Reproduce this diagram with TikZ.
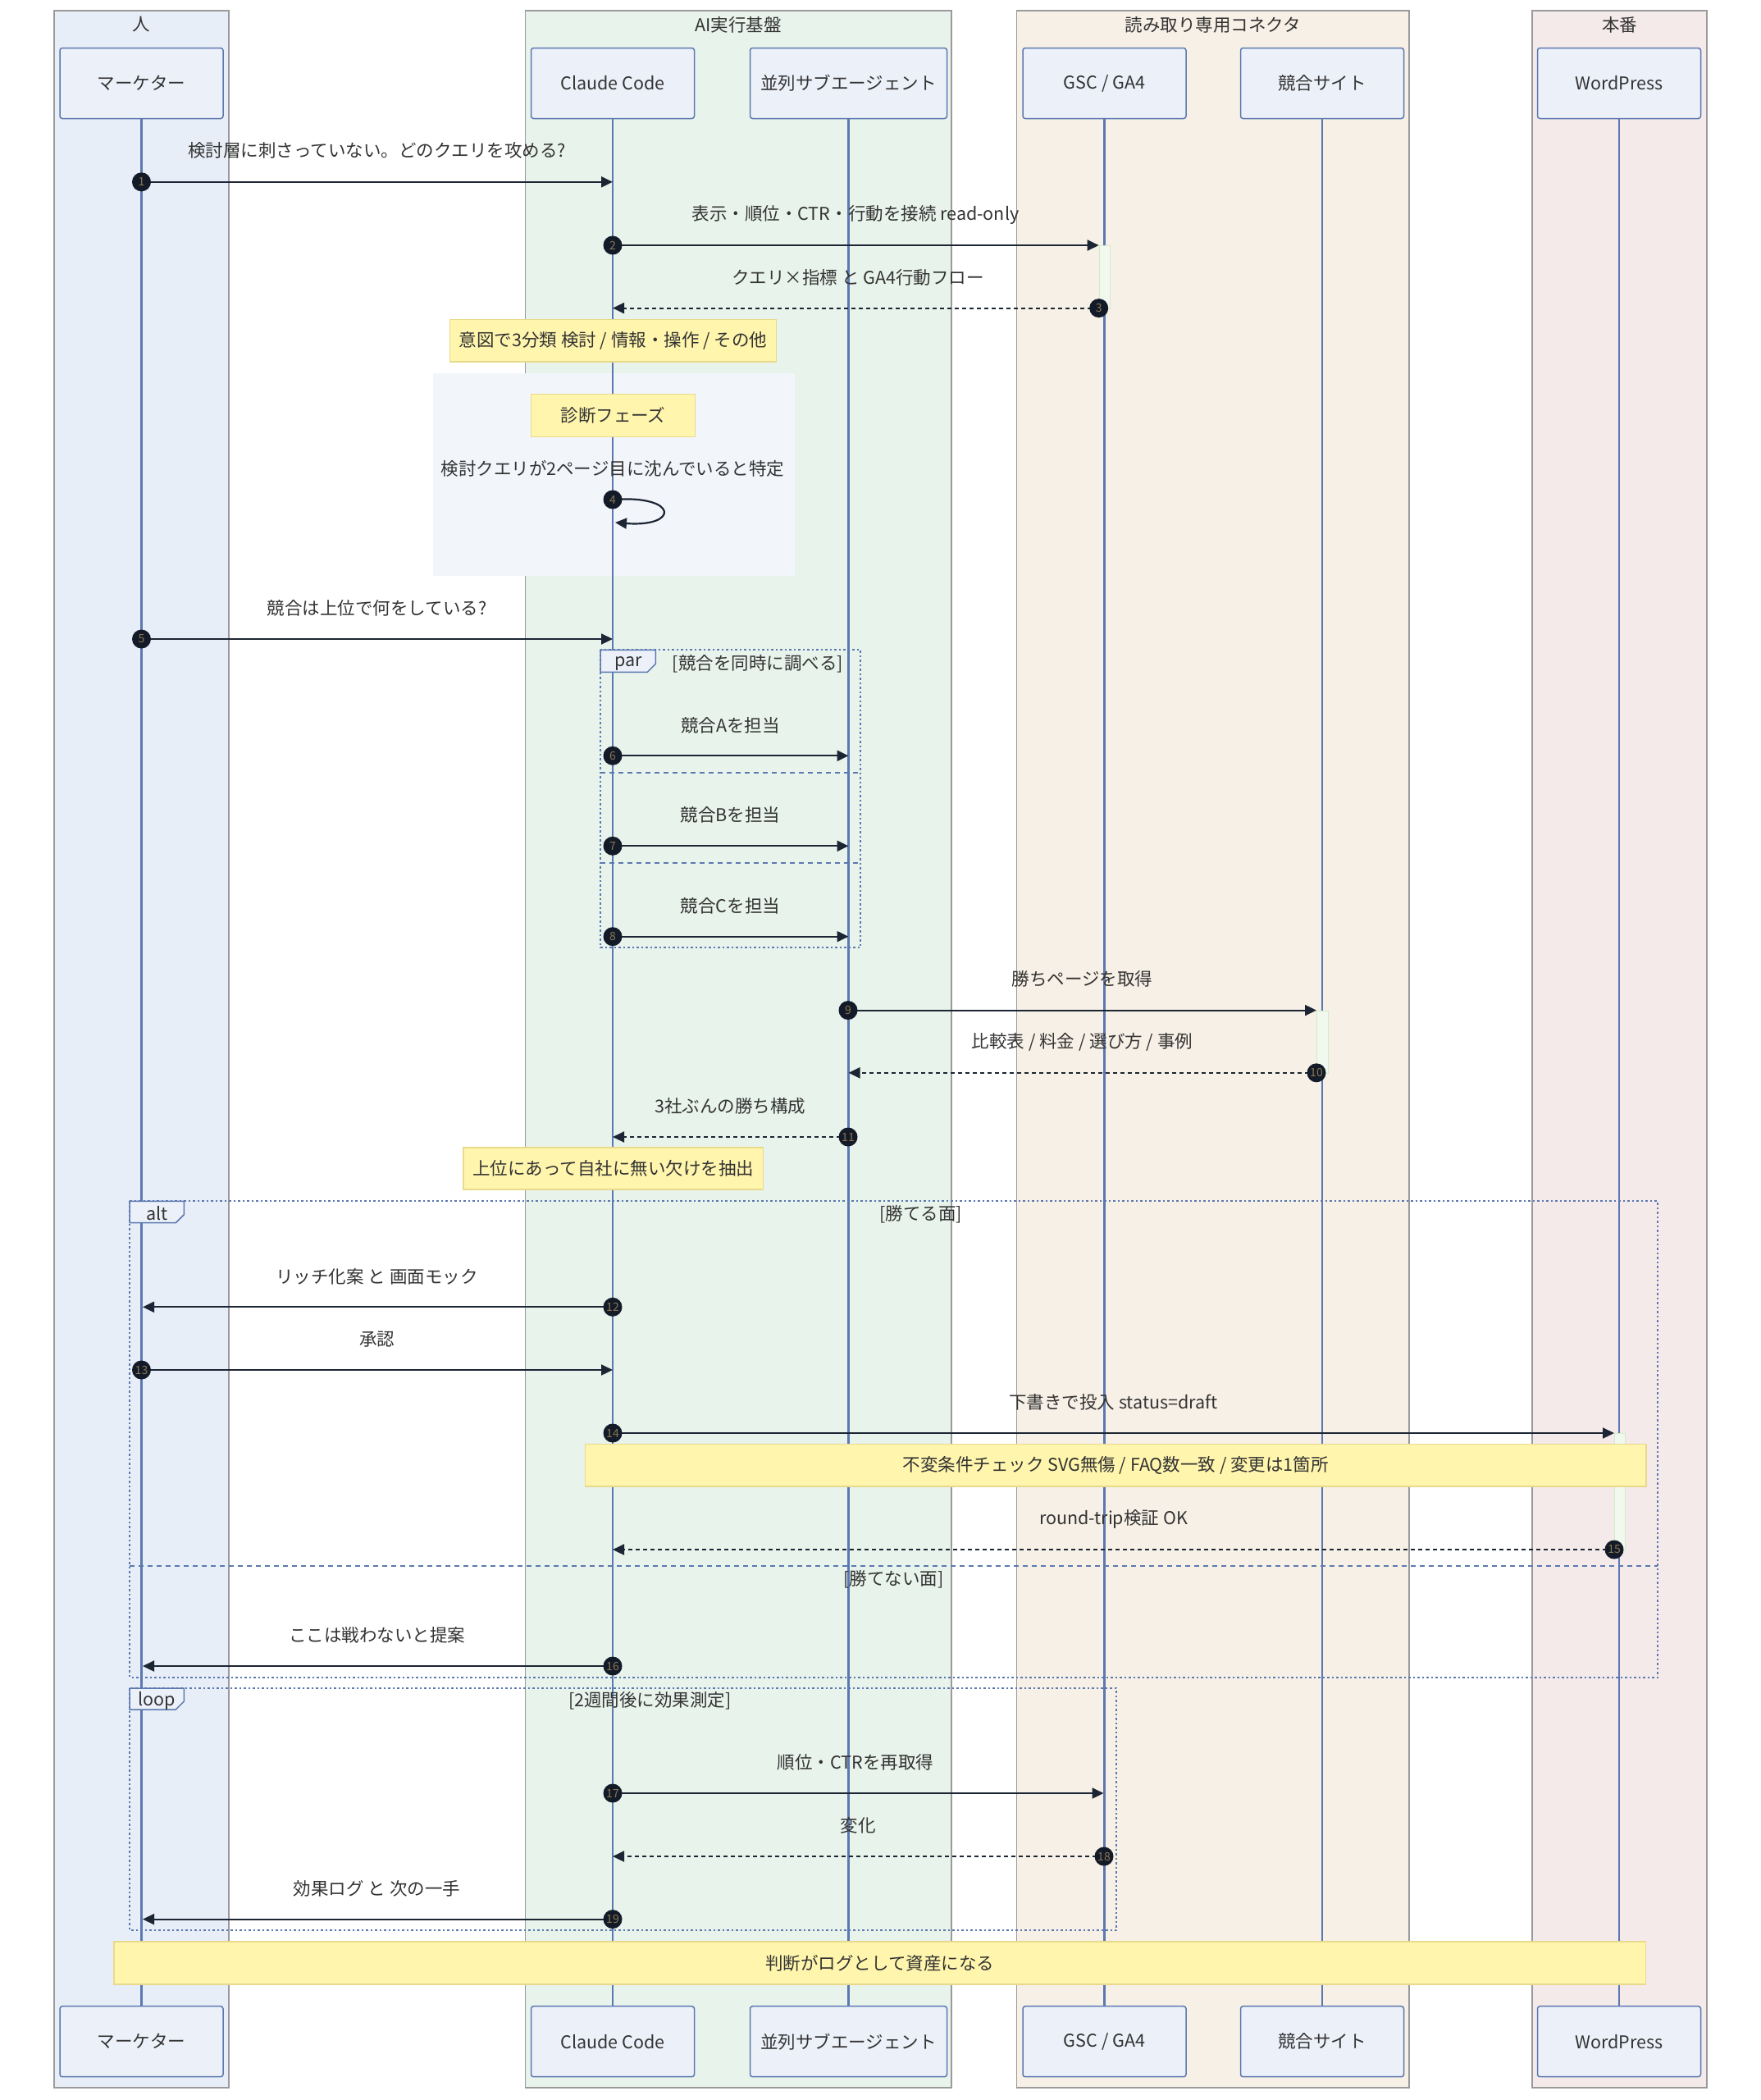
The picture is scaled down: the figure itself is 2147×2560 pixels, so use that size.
\documentclass[tikz,border=0pt]{standalone}
\usepackage{fontspec}
\setmainfont{Noto Sans CJK JP}
\usetikzlibrary{arrows.meta,calc}
\definecolor{lifeC}{HTML}{5B78B0}
\definecolor{msgC}{HTML}{1C2533}
\definecolor{txtC}{HTML}{333333}
\definecolor{grpBorder}{HTML}{9A9A9A}
\definecolor{fillPerson}{HTML}{E8EEF7}
\definecolor{fillAI}{HTML}{E8F3EC}
\definecolor{fillConn}{HTML}{F7F0E6}
\definecolor{fillProd}{HTML}{F5EAEA}
\definecolor{actorFill}{HTML}{ECF0F9}
\definecolor{noteFill}{HTML}{FFF5AD}
\definecolor{noteBorder}{HTML}{E8DA8A}
\definecolor{rectFill}{HTML}{F2F6FB}
\definecolor{seqFill}{HTML}{131B29}
\definecolor{seqTxt}{HTML}{8A7650}
\definecolor{actFill}{HTML}{F1F8EE}
\definecolor{actBorder}{HTML}{D5EACB}
\newcommand\lblfont{\fontsize{21.5pt}{26pt}\selectfont}
\newcommand\numfont{\fontsize{14pt}{14pt}\selectfont}
\tikzset{
  actorbox/.style={draw=lifeC, fill=actorFill, line width=1.5pt, rounded corners=3pt,
    minimum width=199pt, minimum height=86pt, inner sep=0pt, font=\lblfont, text=txtC},
  grpbox/.style={draw=grpBorder, line width=1.2pt},
  grptitle/.style={font=\lblfont, text=txtC, inner sep=0pt},
  lifeline/.style={draw=lifeC, line width=2.5pt},
  msgsolid/.style={draw=msgC, line width=2.2pt, -{Triangle[length=14pt,width=13pt]}},
  msgdot/.style={draw=msgC, line width=2.2pt, dash pattern=on 5pt off 4pt, -{Triangle[length=14pt,width=13pt]}},
  seqnum/.style={circle, fill=seqFill, minimum size=23pt, inner sep=0pt, font=\numfont, text=seqTxt},
  notebox/.style={draw=noteBorder, fill=noteFill, line width=1.2pt, font=\lblfont, text=txtC, inner sep=0pt},
  msglbl/.style={font=\lblfont, text=txtC, inner sep=0pt},
  framebox/.style={draw=lifeC, line width=2pt, dash pattern=on 2.5pt off 3pt},
  sepline/.style={draw=lifeC, line width=2pt, dash pattern=on 6pt off 5pt},
  tabshape/.style={draw=lifeC, fill=actorFill, line width=1.5pt},
  actbox/.style={draw=actBorder, fill=actFill, line width=1.2pt}
}
\begin{document}
\begin{tikzpicture}[x=1pt,y=-1pt]
\useasboundingbox (0,0) rectangle (2147,2560);
\fill[white] (0,0) rectangle (2147,2560);
% groups
\draw[grpbox, fill=fillPerson] (66,13) rectangle (279,2545);
\draw[grpbox, fill=fillAI] (640.5,13) rectangle (1160,2545);
\draw[grpbox, fill=fillConn] (1239.6,13) rectangle (1718,2545);
\draw[grpbox, fill=fillProd] (1868,13) rectangle (2081,2545);
\node[grptitle] (g1) at (172.5,30) {人};
\node[grptitle] (g2) at (900,30) {AI実行基盤};
\node[grptitle] (g3) at (1479,30) {読み取り専用コネクタ};
\node[grptitle] (g4) at (1974.5,30) {本番};
% diagnosis rect
\fill[rectFill] (528,454.5) rectangle (968.8,702);
% actors
\node[actorbox] (mt) at (172.5,101.5) {マーケター};
\node[actorbox] (cc) at (747,101.5) {Claude Code};
\node[actorbox, minimum width=240pt] (sa) at (1034.5,101.5) {並列サブエージェント};
\node[actorbox] (gs) at (1346.5,101.5) {GSC / GA4};
\node[actorbox] (ks) at (1612,101.5) {競合サイト};
\node[actorbox] (wp) at (1974,101.5) {WordPress};
\node[actorbox] (mtB) at (172.5,2488.7) {マーケター};
\node[actorbox] (ccB) at (747,2488.7) {Claude Code};
\node[actorbox, minimum width=240pt] (saB) at (1034.5,2488.7) {並列サブエージェント};
\node[actorbox] (gsB) at (1346.5,2488.7) {GSC / GA4};
\node[actorbox] (ksB) at (1612,2488.7) {競合サイト};
\node[actorbox] (wpB) at (1974,2488.7) {WordPress};
% lifelines
\draw[lifeline] (mt.south) -- (mtB.north);
\draw[lifeline] (cc.south) -- (ccB.north);
\draw[lifeline] (sa.south) -- (saB.north);
\draw[lifeline] (gs.south) -- (gsB.north);
\draw[lifeline] (ks.south) -- (ksB.north);
\draw[lifeline] (wp.south) -- (wpB.north);
% frames
\draw[framebox] (732,792.3) rectangle (1049,1155.3);
\draw[tabshape] (732,792.3) -- (799.3,792.3) -- (799.3,809.3) -- (789.3,819.3) -- (732,819.3) -- cycle;
\node[msglbl] (parT) at (765.8,809) {par};
\node[msglbl] (parL) at (924,809) {[競合を同時に調べる]};
\draw[sepline] (732,941.7) -- (1049,941.7);
\draw[sepline] (732,1051.7) -- (1049,1051.7);
\draw[framebox] (158,1464.3) rectangle (2021,2044.7);
\draw[tabshape] (158,1464.3) -- (224.3,1464.3) -- (224.3,1480.7) -- (214.3,1490.7) -- (158,1490.7) -- cycle;
\node[msglbl] (altT) at (191.5,1479.5) {alt};
\node[msglbl] (altL) at (1122.5,1480) {[勝てる面]};
\draw[sepline] (158,1909) -- (2021,1909);
\node[msglbl] (altL2) at (1089.5,1925.5) {[勝てない面]};
\draw[framebox] (158,2058) rectangle (1361,2353);
\draw[tabshape] (158,2058) -- (224.3,2058) -- (224.3,2074) -- (214.3,2084) -- (158,2084) -- cycle;
\node[msglbl] (loopT) at (191,2073) {loop};
\node[msglbl] (loopL) at (792.5,2073.5) {[2週間後に効果測定]};
% activations
\node[actbox, minimum width=13.3pt, minimum height=76.6pt, inner sep=0pt, anchor=north west] (a1) at (1339.7,299) {};
\node[actbox, minimum width=14pt, minimum height=76.2pt, inner sep=0pt, anchor=north west] (a2) at (1605,1231.6) {};
\node[actbox, minimum width=13pt, minimum height=142pt, inner sep=0pt, anchor=north west] (a3) at (1968,1747) {};
% message anchor coordinates
\coordinate (p1) at (172.5,221.8);
\coordinate (p2) at (747,299);
\coordinate (p3) at (1339.7,375.6);
\coordinate (p4) at (747,609);
\coordinate (p5) at (172.5,779);
\coordinate (p6) at (747,921.3);
\coordinate (p7) at (747,1031.3);
\coordinate (p8) at (747,1141.7);
\coordinate (p9) at (1034,1231.6);
\coordinate (p10) at (1605,1307.8);
\coordinate (p11) at (1034,1386);
\coordinate (p12) at (747,1593.3);
\coordinate (p13) at (172.5,1670);
\coordinate (p14) at (747,1747);
\coordinate (p15) at (1968,1889);
\coordinate (p16) at (747,2031);
\coordinate (p17) at (747,2186);
\coordinate (p18) at (1346,2263);
\coordinate (p19) at (747,2339.6);
% messages
\node[msglbl] (l1) at (459.5,183.7) {検討層に刺さっていない。どのクエリを攻める?};
\draw[msgsolid] (p1) -- (cc |- p1);
\node[msglbl] (l2) at (1043,261.7) {表示・順位・CTR・行動を接続 read-only};
\draw[msgsolid] (p2) -- (a1.north west);
\node[msglbl] (l3) at (1046,338) {クエリ×指標 と GA4行動フロー};
\draw[msgdot] (p3) -- (cc |- p3);
\node[notebox, minimum width=397.7pt, minimum height=51.8pt] (n1) at (747.5,415) {意図で3分類 検討 / 情報・操作 / その他};
\node[notebox, minimum width=200pt, minimum height=52pt] (n2) at (747.5,506.5) {診断フェーズ};
\node[msglbl] (l4) at (747,571.6) {検討クエリが2ページ目に沈んでいると特定};
\draw[msgsolid] (p4) .. controls (828,603) and (828,643) .. (750,637);
\node[msglbl] (l5) at (459.5,741) {競合は上位で何をしている?};
\draw[msgsolid] (p5) -- (cc |- p5);
\node[msglbl] (l6) at (890.5,884) {競合Aを担当};
\draw[msgsolid] (p6) -- (sa |- p6);
\node[msglbl] (l7) at (890.5,993.3) {競合Bを担当};
\draw[msgsolid] (p7) -- (sa |- p7);
\node[msglbl] (l8) at (890.5,1104) {競合Cを担当};
\draw[msgsolid] (p8) -- (sa |- p8);
\node[msglbl] (l9) at (1319.5,1193.5) {勝ちページを取得};
\draw[msgsolid] (p9) -- (a2.north west);
\node[msglbl] (l10) at (1319.5,1270) {比較表 / 料金 / 選び方 / 事例};
\draw[msgdot] (p10) -- (sa |- p10);
\node[msglbl] (l11) at (890.5,1348.6) {3社ぶんの勝ち構成};
\draw[msgdot] (p11) -- (cc |- p11);
\node[notebox, minimum width=365.6pt, minimum height=51pt] (n3) at (747.8,1424.5) {上位にあって自社に無い欠けを抽出};
\node[msglbl] (l12) at (459.5,1556) {リッチ化案 と 画面モック};
\draw[msgsolid] (p12) -- ([xshift=1.5pt]mt |- p12);
\node[msglbl] (l13) at (459.5,1632.7) {承認};
\draw[msgsolid] (p13) -- (cc |- p13);
\node[msglbl] (l14) at (1357.5,1709.5) {下書きで投入 status=draft};
\draw[msgsolid] (p14) -- (a3.north west);
\node[notebox, minimum width=1293.5pt, minimum height=51.3pt] (n4) at (1360.2,1786.4) {不変条件チェック SVG無傷 / FAQ数一致 / 変更は1箇所};
\node[msglbl] (l15) at (1357.5,1851.5) {round-trip検証 OK};
\draw[msgdot] (p15) -- (cc |- p15);
\node[msglbl] (l16) at (459.5,1993.5) {ここは戦わないと提案};
\draw[msgsolid] (p16) -- ([xshift=1.5pt]mt |- p16);
\node[msglbl] (l17) at (1043,2148.6) {順位・CTRを再取得};
\draw[msgsolid] (p17) -- ([xshift=-1pt]gs |- p17);
\node[msglbl] (l18) at (1046,2225.4) {変化};
\draw[msgdot] (p18) -- (cc |- p18);
\node[msglbl] (l19) at (459.5,2302) {効果ログ と 次の一手};
\draw[msgsolid] (p19) -- ([xshift=1.5pt]mt |- p19);
\node[notebox, minimum width=1867.6pt, minimum height=52pt] (n5) at (1072.8,2393) {判断がログとして資産になる};
% sequence numbers
\foreach \i in {1,...,19} { \node[seqnum] (s\i) at (p\i) {\i}; }
\end{tikzpicture}
\end{document}
